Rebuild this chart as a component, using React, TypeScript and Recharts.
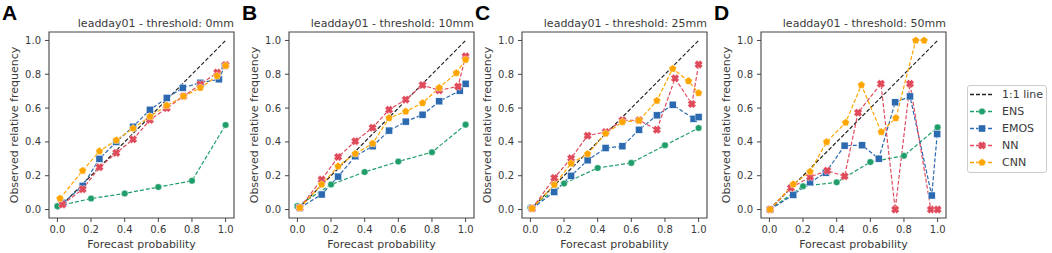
import React from 'react';
import { LineChart, Line, XAxis, YAxis, ReferenceArea, Legend } from 'recharts';

// ---------- data ----------
const panelLetters = ['A', 'B', 'C', 'D'];
const thresholds = ['0mm', '10mm', '25mm', '50mm'];
const xTicks = [0, 0.2, 0.4, 0.6, 0.8, 1.0];
const yTicks = [0, 0.2, 0.4, 0.6, 0.8, 1.0];
const diagX = [0, 1];
const diagY = [0, 1];

// ENS (5 members -> discrete probabilities)
const ensX = [0, 0.2, 0.4, 0.6, 0.8, 1.0];
const ensA = [0.02, 0.065, 0.095, 0.133, 0.17, 0.5];
const ensB = [0.02, 0.148, 0.222, 0.284, 0.339, 0.502];
const ensC = [0.012, 0.154, 0.246, 0.276, 0.38, 0.482];
const ensD = [0.0, 0.138, 0.161, 0.281, 0.318, 0.486];

// EMOS
const emosXA = [0.035, 0.15, 0.25, 0.35, 0.45, 0.55, 0.65, 0.745, 0.85, 0.96, 0.995];
const emosA = [0.04, 0.14, 0.3, 0.4, 0.49, 0.59, 0.66, 0.72, 0.75, 0.77, 0.85];
const emosXB = [0.014, 0.144, 0.242, 0.344, 0.447, 0.545, 0.644, 0.744, 0.843, 0.965, 1.0];
const emosB = [0.01, 0.089, 0.195, 0.315, 0.374, 0.467, 0.52, 0.561, 0.64, 0.703, 0.744];
const emosXC = [0.01, 0.142, 0.242, 0.34, 0.447, 0.547, 0.646, 0.752, 0.846, 0.97, 1.0];
const emosC = [0.006, 0.104, 0.2, 0.291, 0.364, 0.374, 0.472, 0.557, 0.62, 0.537, 0.547];
const emosXD = [0.004, 0.142, 0.242, 0.335, 0.447, 0.551, 0.65, 0.748, 0.836, 0.965, 0.998];
const emosD = [0.0, 0.087, 0.161, 0.218, 0.378, 0.38, 0.301, 0.634, 0.669, 0.083, 0.447];

// NN
const nnXA = [0.03, 0.15, 0.25, 0.35, 0.45, 0.55, 0.65, 0.75, 0.85, 0.95, 1.0];
const nnA = [0.03, 0.12, 0.25, 0.335, 0.415, 0.53, 0.6, 0.67, 0.74, 0.81, 0.855];
const nnXB = [0.014, 0.144, 0.242, 0.344, 0.447, 0.545, 0.644, 0.744, 0.843, 0.955, 1.0];
const nnB = [0.01, 0.177, 0.311, 0.404, 0.484, 0.59, 0.65, 0.736, 0.705, 0.728, 0.906];
const nnXC = [0.01, 0.142, 0.242, 0.34, 0.447, 0.547, 0.646, 0.752, 0.86, 0.96, 1.0];
const nnC = [0.006, 0.187, 0.303, 0.437, 0.459, 0.528, 0.528, 0.472, 0.776, 0.624, 0.858];
const nnXD = [0.004, 0.128, 0.242, 0.344, 0.447, 0.527, 0.663, 0.748, 0.836, 0.96, 1.0];
const nnD = [0.0, 0.128, 0.193, 0.23, 0.197, 0.573, 0.744, 0.0, 0.744, 0.0, 0.0];

// CNN
const cnnXA = [0.015, 0.15, 0.25, 0.35, 0.45, 0.55, 0.65, 0.75, 0.85, 0.95, 1.0];
const cnnA = [0.065, 0.23, 0.345, 0.41, 0.48, 0.55, 0.615, 0.67, 0.72, 0.79, 0.85];
const cnnXB = [0.014, 0.144, 0.242, 0.344, 0.447, 0.545, 0.644, 0.744, 0.843, 0.945, 1.0];
const cnnB = [0.01, 0.148, 0.256, 0.33, 0.39, 0.541, 0.58, 0.63, 0.72, 0.807, 0.886];
const cnnXC = [0.01, 0.142, 0.242, 0.34, 0.447, 0.547, 0.646, 0.752, 0.846, 0.94, 1.0];
const cnnC = [0.006, 0.146, 0.272, 0.329, 0.449, 0.518, 0.526, 0.644, 0.833, 0.76, 0.689];
const cnnXD = [0.004, 0.142, 0.242, 0.34, 0.453, 0.547, 0.665, 0.752, 0.87, 0.92];
const cnnD = [0.0, 0.15, 0.224, 0.4, 0.514, 0.736, 0.459, 0.541, 1.0, 1.0];

const seriesNames = ['ENS', 'EMOS', 'NN', 'CNN'];
const seriesColors = ['#1f9e6a', '#2b69b0', '#e04b5c', '#ffa500'];
const seriesShapes = ['circle', 'square', 'x', 'pentagon'];

const panelSeries = [
  [[ensX, ensA], [emosXA, emosA], [nnXA, nnA], [cnnXA, cnnA]],
  [[ensX, ensB], [emosXB, emosB], [nnXB, nnB], [cnnXB, cnnB]],
  [[ensX, ensC], [emosXC, emosC], [nnXC, nnC], [cnnXC, cnnC]],
  [[ensX, ensD], [emosXD, emosD], [nnXD, nnD], [cnnXD, cnnD]],
];

// ---------- layout ----------
const frameLefts = [49, 289, 522, 761];
const PLOT_W = 185;
const AXIS_W = 49;
const CHART_H = 253;
const TOP = 32;
const XAXIS_H = 35;
const FONT = '"DejaVu Sans", sans-serif';
const TEXT = '#3a3a3a';
const SPINE = '#444444';

const zip = (xs: number[], ys: number[]) => xs.map((x, i) => ({ x, y: ys[i] }));

function markerPath(shape: string, cx: number, cy: number): string {
  if (shape === 'x') {
    const a = 4.1, b = 1.9;
    const pts = [[b, a], [b, b], [a, b], [a, -b], [b, -b], [b, -a], [-b, -a], [-b, -b], [-a, -b], [-a, b], [-b, b], [-b, a]];
    const c = Math.SQRT1_2;
    return pts.map(([px, py], i) => `${i ? 'L' : 'M'}${cx + (px - py) * c},${cy + (px + py) * c}`).join('') + 'Z';
  }
  // pentagon
  const r = 4.0;
  const pts: string[] = [];
  for (let k = 0; k < 5; k++) {
    const ang = (-90 + 72 * k) * Math.PI / 180;
    pts.push(`${k ? 'L' : 'M'}${cx + r * Math.cos(ang)},${cy + r * Math.sin(ang)}`);
  }
  return pts.join('') + 'Z';
}

function Marker({ shape, color, cx, cy }: { shape: string; color: string; cx: number; cy: number }) {
  if (shape === 'circle') return <circle cx={cx} cy={cy} r={3.3} fill={color} stroke="#fff" strokeWidth={0.4} />;
  if (shape === 'square') return <rect x={cx - 3.5} y={cy - 3.5} width={7} height={7} fill={color} stroke="#fff" strokeWidth={0.4} />;
  return <path d={markerPath(shape, cx, cy)} fill={color} stroke="#fff" strokeWidth={0.4} />;
}

const makeDot = (shape: string, color: string) => (props: any) => {
  const { cx, cy, index } = props;
  if (cx == null || cy == null) return <g key={`e-${index}`} />;
  return (
    <g key={`${shape}-${index}`}>
      <Marker shape={shape} color={color} cx={cx} cy={cy} />
    </g>
  );
};

function LegendBox() {
  const rows = [
    { name: '1:1 line', color: '#222', shape: '' },
    ...seriesNames.map((n, i) => ({ name: n, color: seriesColors[i], shape: seriesShapes[i] })),
  ];
  return (
    <div
      style={{
        width: 80,
        height: 88,
        boxSizing: 'border-box',
        border: '1px solid #cccccc',
        borderRadius: 3,
        background: '#fff',
        paddingTop: 0,
        fontFamily: FONT,
        fontSize: 11,
        color: TEXT,
      }}
    >
      {rows.map((r) => (
        <div key={r.name} style={{ height: 17, display: 'flex', alignItems: 'center' }}>
          <svg width={26} height={17} style={{ marginLeft: 1, display: 'block' }}>
            <line x1={1} x2={25} y1={8.5} y2={8.5} stroke={r.color} strokeWidth={1.3} strokeDasharray="4 2" />
            {r.shape ? <Marker shape={r.shape} color={r.color} cx={13} cy={8.5} /> : null}
          </svg>
          <span style={{ marginLeft: 7, lineHeight: '17px' }}>{r.name}</span>
        </div>
      ))}
    </div>
  );
}

function Panel({ idx }: { idx: number }) {
  const left = frameLefts[idx] - AXIS_W;
  const isLast = idx === 3;
  const width = isLast ? 1052 - left : 240;
  const rightMargin = width - AXIS_W - PLOT_W;
  const plotCx = AXIS_W + PLOT_W / 2;
  const plotCy = TOP + (CHART_H - TOP - XAXIS_H) / 2;
  return (
    <div style={{ position: 'absolute', left, top: 0 }}>
      <LineChart width={width} height={CHART_H} margin={{ top: TOP, right: rightMargin, bottom: 0, left: 0 }}>
        <XAxis
          type="number"
          dataKey="x"
          domain={[-0.05, 1.05]}
          ticks={xTicks}
          tickFormatter={(v: number) => v.toFixed(1)}
          allowDataOverflow
          height={XAXIS_H}
          axisLine={false}
          tickLine={{ stroke: SPINE, strokeWidth: 1 }}
          tickSize={4}
          tickMargin={4}
          tick={{ fontSize: 10, fill: TEXT, fontFamily: FONT }}
        />
        <YAxis
          type="number"
          dataKey="y"
          domain={[-0.05, 1.05]}
          ticks={yTicks}
          tickFormatter={(v: number) => v.toFixed(1)}
          allowDataOverflow
          width={AXIS_W}
          axisLine={false}
          tickLine={{ stroke: SPINE, strokeWidth: 1 }}
          tickSize={4}
          tickMargin={4}
          tick={{ fontSize: 10, fill: TEXT, fontFamily: FONT }}
        />
        <ReferenceArea x1={-0.05} x2={1.05} y1={-0.05} y2={1.05} fill="none" stroke={SPINE} strokeWidth={1.1} />
        <Line
          data={zip(diagX, diagY)}
          dataKey="y"
          stroke="#222"
          strokeWidth={1.2}
          strokeDasharray="4 2"
          dot={false}
          isAnimationActive={false}
          name="1:1 line"
        />
        {panelSeries[idx].map(([xs, ys], s) => (
          <Line
            key={seriesNames[s]}
            data={zip(xs, ys)}
            dataKey="y"
            name={seriesNames[s]}
            stroke={seriesColors[s]}
            strokeWidth={1.2}
            strokeDasharray="4 2"
            dot={makeDot(seriesShapes[s], seriesColors[s])}
            activeDot={false}
            isAnimationActive={false}
          />
        ))}
        <text x={2} y={20} fontFamily='"Liberation Sans", Arial, sans-serif' fontWeight="bold" fontSize={21} fill="#000">
          {panelLetters[idx]}
        </text>
        <text x={AXIS_W + PLOT_W} y={27} textAnchor="end" fontFamily={FONT} fontSize={11} fill={TEXT}>
          {`leadday01 - threshold: ${thresholds[idx]}`}
        </text>
        <text
          transform={`translate(18, ${plotCy}) rotate(-90)`}
          textAnchor="middle"
          fontFamily={FONT}
          fontSize={11}
          fill={TEXT}
        >
          Observed relative frequency
        </text>
        <text x={plotCx} y={248} textAnchor="middle" fontFamily={FONT} fontSize={11} fill={TEXT}>
          Forecast probability
        </text>
        {isLast ? (
          <Legend
            layout="horizontal"
            verticalAlign="middle"
            align="center"
            content={() => <LegendBox />}
            wrapperStyle={{ left: 967 - left, top: 85, width: 80, height: 88 }}
          />
        ) : null}
      </LineChart>
    </div>
  );
}

export default function App() {
  return (
    <div style={{ position: 'absolute', left: 0, top: 0, width: 1052, height: 253, background: '#fff', overflow: 'hidden' }}>
      {[0, 1, 2, 3].map((i) => (
        <Panel key={i} idx={i} />
      ))}
    </div>
  );
}
